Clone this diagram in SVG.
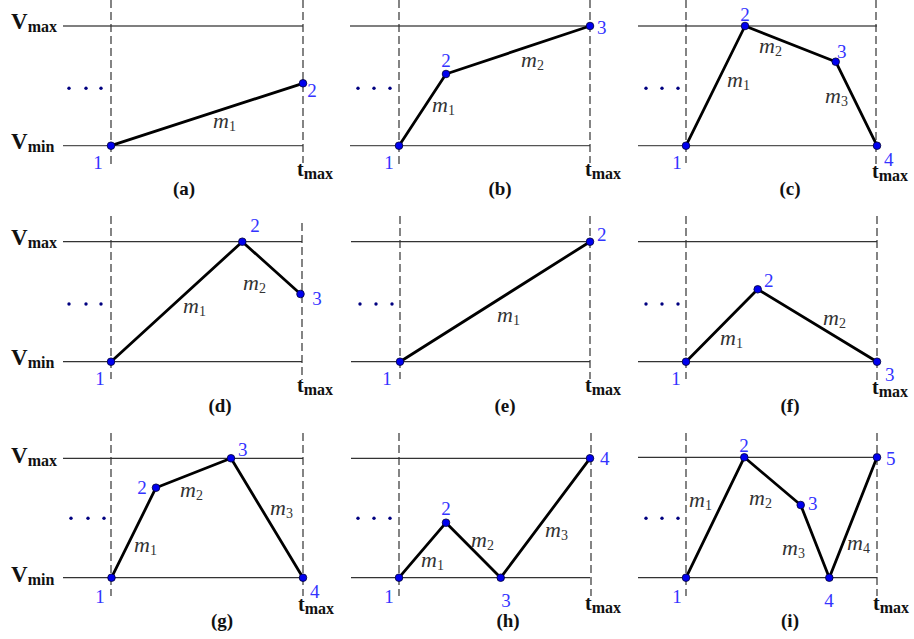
<svg xmlns="http://www.w3.org/2000/svg" width="914" height="639" viewBox="0 0 914 639">
<style>
  .bg{fill:#ffffff}
  .h{stroke:#333;stroke-width:1.3;fill:none}
  .h1{stroke:#555;stroke-width:1.3;fill:none}
  .d{stroke:#333;stroke-width:1.2;stroke-dasharray:8,4;fill:none}
  .seg{stroke:#000;stroke-width:2.8;fill:none;stroke-linejoin:round;stroke-linecap:round}
  .pt{fill:#0000ee;stroke:#000033;stroke-width:0.8}
  .el{fill:#000080}
  .num{font-family:"Liberation Serif","DejaVu Serif",serif;font-size:19px;fill:#3333ff}
  .m{font-family:"Liberation Serif","DejaVu Serif",serif;font-style:italic;font-size:22px;fill:#333}
  .ms{font-style:normal;font-size:14px}
  .V{font-family:"Liberation Serif","DejaVu Serif",serif;font-weight:bold;font-size:23px;fill:#111}
  .T{font-family:"Liberation Serif","DejaVu Serif",serif;font-weight:bold;font-size:20px;fill:#111}
  .sub{font-size:16px}
  .cap{font-family:"Liberation Serif","DejaVu Serif",serif;font-weight:bold;font-size:19px;fill:#111;text-anchor:middle}
  .c{text-anchor:middle}
</style>
<rect class="bg" x="0" y="0" width="914" height="639"/>

<!-- Panel (a) -->
<g id="panel-a">
  <g id="a-axes">
    <line class="h1" x1="63" y1="26" x2="303" y2="26"/>
    <line class="h1" x1="63" y1="145.7" x2="303" y2="145.7"/>
    <line class="d" x1="111" y1="0" x2="111" y2="167"/>
    <line class="d" x1="303" y1="0" x2="303" y2="163"/>
    <text class="V" x="11" y="29">V<tspan class="sub" dy="3">max</tspan></text>
    <text class="V" x="11" y="149">V<tspan class="sub" dy="3">min</tspan></text>
    <text class="T" x="297" y="176">t<tspan class="sub" dy="3">max</tspan></text>
    <circle class="el" cx="69" cy="88.3" r="1.7"/><circle class="el" cx="86" cy="88.3" r="1.7"/><circle class="el" cx="101" cy="88.3" r="1.7"/>
  </g>
  <g id="a-connectors">
    <polyline class="seg" points="111,145.7 303,83.3"/>
    <text class="m" x="213" y="128">m<tspan class="ms" dy="3">1</tspan></text>
  </g>
  <g id="a-n1"><circle class="pt" cx="111" cy="145.7" r="3.8"/><text class="num c" x="98" y="169">1</text></g>
  <g id="a-n2"><circle class="pt" cx="303" cy="83.3" r="3.8"/><text class="num c" x="312" y="97">2</text></g>
  <text class="cap" x="184" y="195">(a)</text>
</g>

<!-- Panel (b) -->
<g id="panel-b">
  <g id="b-axes">
    <line class="h1" x1="350" y1="26" x2="590" y2="26"/>
    <line class="h1" x1="350" y1="145.7" x2="590" y2="145.7"/>
    <line class="d" x1="399" y1="0" x2="399" y2="167"/>
    <line class="d" x1="590" y1="0" x2="590" y2="163"/>
    <text class="T" x="585" y="176">t<tspan class="sub" dy="3">max</tspan></text>
    <circle class="el" cx="358" cy="88.3" r="1.7"/><circle class="el" cx="374" cy="88.3" r="1.7"/><circle class="el" cx="390" cy="88.3" r="1.7"/>
  </g>
  <g id="b-connectors">
    <polyline class="seg" points="399,145.7 446,74 590,26"/>
    <text class="m" x="432" y="112">m<tspan class="ms" dy="3">1</tspan></text>
    <text class="m" x="521" y="67">m<tspan class="ms" dy="3">2</tspan></text>
  </g>
  <g id="b-n1"><circle class="pt" cx="399" cy="145.7" r="3.8"/><text class="num c" x="389" y="169">1</text></g>
  <g id="b-n2"><circle class="pt" cx="446" cy="74" r="3.8"/><text class="num c" x="446" y="67">2</text></g>
  <g id="b-n3"><circle class="pt" cx="590" cy="26" r="3.8"/><text class="num" x="597" y="34">3</text></g>
  <text class="cap" x="500" y="195">(b)</text>
</g>

<!-- Panel (c) -->
<g id="panel-c">
  <g id="c-axes">
    <line class="h1" x1="638" y1="26" x2="877" y2="26"/>
    <line class="h1" x1="638" y1="145.7" x2="877" y2="145.7"/>
    <line class="d" x1="686" y1="0" x2="686" y2="163"/>
    <line class="d" x1="876" y1="0" x2="876" y2="165"/>
    <text class="T" x="872" y="178">t<tspan class="sub" dy="3">max</tspan></text>
    <circle class="el" cx="646" cy="88.3" r="1.7"/><circle class="el" cx="662" cy="88.3" r="1.7"/><circle class="el" cx="678" cy="88.3" r="1.7"/>
  </g>
  <g id="c-connectors">
    <polyline class="seg" points="686,145.7 745,26 835.7,61.7 877,145.7"/>
    <text class="m" x="727" y="87">m<tspan class="ms" dy="3">1</tspan></text>
    <text class="m" x="759" y="53">m<tspan class="ms" dy="3">2</tspan></text>
    <text class="m" x="825" y="103">m<tspan class="ms" dy="3">3</tspan></text>
  </g>
  <g id="c-n1"><circle class="pt" cx="686" cy="145.7" r="3.8"/><text class="num c" x="677" y="169">1</text></g>
  <g id="c-n2"><circle class="pt" cx="745" cy="26" r="3.8"/><text class="num c" x="745" y="21">2</text></g>
  <g id="c-n3"><circle class="pt" cx="835.7" cy="61.7" r="3.8"/><text class="num" x="837" y="58">3</text></g>
  <g id="c-n4"><circle class="pt" cx="877" cy="145.7" r="3.8"/><text class="num" x="884" y="166">4</text></g>
  <text class="cap" x="790" y="195">(c)</text>
</g>

<!-- Panel (d) -->
<g id="panel-d">
  <g id="d-axes">
    <line class="h" x1="63" y1="241.7" x2="302" y2="241.7"/>
    <line class="h" x1="63" y1="361.7" x2="302" y2="361.7"/>
    <line class="d" x1="111" y1="216" x2="111" y2="379"/>
    <line class="d" x1="302" y1="223" x2="302" y2="380"/>
    <text class="V" x="11" y="245">V<tspan class="sub" dy="3">max</tspan></text>
    <text class="V" x="11" y="365">V<tspan class="sub" dy="3">min</tspan></text>
    <text class="T" x="297" y="392">t<tspan class="sub" dy="3">max</tspan></text>
    <circle class="el" cx="69" cy="304" r="1.7"/><circle class="el" cx="86" cy="304" r="1.7"/><circle class="el" cx="101" cy="304" r="1.7"/>
  </g>
  <g id="d-connectors">
    <polyline class="seg" points="111,361.7 242.3,241.7 300.5,294"/>
    <text class="m" x="183" y="313">m<tspan class="ms" dy="3">1</tspan></text>
    <text class="m" x="243" y="290">m<tspan class="ms" dy="3">2</tspan></text>
  </g>
  <g id="d-n1"><circle class="pt" cx="111" cy="361.7" r="3.8"/><text class="num c" x="100" y="385">1</text></g>
  <g id="d-n2"><circle class="pt" cx="242.3" cy="241.7" r="3.8"/><text class="num c" x="255" y="232">2</text></g>
  <g id="d-n3"><circle class="pt" cx="300.5" cy="294" r="3.8"/><text class="num c" x="317" y="305">3</text></g>
  <text class="cap" x="220" y="412">(d)</text>
</g>

<!-- Panel (e) -->
<g id="panel-e">
  <g id="e-axes">
    <line class="h" x1="351" y1="241.7" x2="590" y2="241.7"/>
    <line class="h" x1="351" y1="361.7" x2="590" y2="361.7"/>
    <line class="d" x1="400" y1="216" x2="400" y2="379"/>
    <line class="d" x1="590" y1="216" x2="590" y2="379"/>
    <text class="T" x="585" y="392">t<tspan class="sub" dy="3">max</tspan></text>
    <circle class="el" cx="360" cy="304" r="1.7"/><circle class="el" cx="376" cy="304" r="1.7"/><circle class="el" cx="392" cy="304" r="1.7"/>
  </g>
  <g id="e-connectors">
    <polyline class="seg" points="400,361.7 590,241.7"/>
    <text class="m" x="497" y="322">m<tspan class="ms" dy="3">1</tspan></text>
  </g>
  <g id="e-n1"><circle class="pt" cx="400" cy="361.7" r="3.8"/><text class="num c" x="387" y="385">1</text></g>
  <g id="e-n2"><circle class="pt" cx="590" cy="241.7" r="3.8"/><text class="num" x="597" y="241">2</text></g>
  <text class="cap" x="505" y="412">(e)</text>
</g>

<!-- Panel (f) -->
<g id="panel-f">
  <g id="f-axes">
    <line class="h" x1="638" y1="241.7" x2="877" y2="241.7"/>
    <line class="h" x1="638" y1="361.7" x2="877" y2="361.7"/>
    <line class="d" x1="686" y1="216" x2="686" y2="379"/>
    <line class="d" x1="877" y1="216" x2="877" y2="381"/>
    <text class="T" x="872" y="394">t<tspan class="sub" dy="3">max</tspan></text>
    <circle class="el" cx="646" cy="304" r="1.7"/><circle class="el" cx="662" cy="304" r="1.7"/><circle class="el" cx="678" cy="304" r="1.7"/>
  </g>
  <g id="f-connectors">
    <polyline class="seg" points="686,361.7 757.7,289.3 877,361.7"/>
    <text class="m" x="720" y="345">m<tspan class="ms" dy="3">1</tspan></text>
    <text class="m" x="823" y="325">m<tspan class="ms" dy="3">2</tspan></text>
  </g>
  <g id="f-n1"><circle class="pt" cx="686" cy="361.7" r="3.8"/><text class="num c" x="676" y="385">1</text></g>
  <g id="f-n2"><circle class="pt" cx="757.7" cy="289.3" r="3.8"/><text class="num" x="764" y="287">2</text></g>
  <g id="f-n3"><circle class="pt" cx="877" cy="361.7" r="3.8"/><text class="num" x="885" y="381">3</text></g>
  <text class="cap" x="790" y="412">(f)</text>
</g>

<!-- Panel (g) -->
<g id="panel-g">
  <g id="g-axes">
    <line class="h" x1="63" y1="458.3" x2="303" y2="458.3"/>
    <line class="h" x1="63" y1="577.7" x2="303" y2="577.7"/>
    <line class="d" x1="111" y1="433" x2="111" y2="596"/>
    <line class="d" x1="303" y1="433" x2="303" y2="596"/>
    <text class="V" x="11" y="463">V<tspan class="sub" dy="3">max</tspan></text>
    <text class="V" x="11" y="582">V<tspan class="sub" dy="3">min</tspan></text>
    <text class="T" x="298" y="611">t<tspan class="sub" dy="3">max</tspan></text>
    <circle class="el" cx="71" cy="518.3" r="1.7"/><circle class="el" cx="88" cy="518.3" r="1.7"/><circle class="el" cx="104" cy="518.3" r="1.7"/>
  </g>
  <g id="g-connectors">
    <polyline class="seg" points="111.5,577.7 156,487.7 231,458.3 303,577.7"/>
    <text class="m" x="134" y="552">m<tspan class="ms" dy="3">1</tspan></text>
    <text class="m" x="180" y="497">m<tspan class="ms" dy="3">2</tspan></text>
    <text class="m" x="270" y="515">m<tspan class="ms" dy="3">3</tspan></text>
  </g>
  <g id="g-n1"><circle class="pt" cx="111.5" cy="577.7" r="3.8"/><text class="num c" x="100" y="603">1</text></g>
  <g id="g-n2"><circle class="pt" cx="156" cy="487.7" r="3.8"/><text class="num c" x="142" y="494">2</text></g>
  <g id="g-n3"><circle class="pt" cx="231" cy="458.3" r="3.8"/><text class="num" x="238" y="456">3</text></g>
  <g id="g-n4"><circle class="pt" cx="303" cy="577.7" r="3.8"/><text class="num" x="310" y="598">4</text></g>
  <text class="cap" x="222" y="627">(g)</text>
</g>

<!-- Panel (h) -->
<g id="panel-h">
  <g id="h-axes">
    <line class="h" x1="351" y1="458.3" x2="590" y2="458.3"/>
    <line class="h" x1="351" y1="577.7" x2="590" y2="577.7"/>
    <line class="d" x1="399" y1="433" x2="399" y2="596"/>
    <line class="d" x1="591" y1="433" x2="591" y2="596"/>
    <text class="T" x="585" y="610">t<tspan class="sub" dy="3">max</tspan></text>
    <circle class="el" cx="358" cy="518.3" r="1.7"/><circle class="el" cx="374" cy="518.3" r="1.7"/><circle class="el" cx="390" cy="518.3" r="1.7"/>
  </g>
  <g id="h-connectors">
    <polyline class="seg" points="399,577.7 446,522.7 500.7,577.7 590,458.3"/>
    <text class="m" x="421" y="567">m<tspan class="ms" dy="3">1</tspan></text>
    <text class="m" x="471" y="547">m<tspan class="ms" dy="3">2</tspan></text>
    <text class="m" x="545" y="537">m<tspan class="ms" dy="3">3</tspan></text>
  </g>
  <g id="h-n1"><circle class="pt" cx="399" cy="577.7" r="3.8"/><text class="num c" x="389" y="603">1</text></g>
  <g id="h-n2"><circle class="pt" cx="446" cy="522.7" r="3.8"/><text class="num c" x="446" y="515">2</text></g>
  <g id="h-n3"><circle class="pt" cx="500.7" cy="577.7" r="3.8"/><text class="num c" x="506" y="607">3</text></g>
  <g id="h-n4"><circle class="pt" cx="590" cy="458.3" r="3.8"/><text class="num" x="600" y="465">4</text></g>
  <text class="cap" x="508" y="627">(h)</text>
</g>

<!-- Panel (i) -->
<g id="panel-i">
  <g id="i-axes">
    <line class="h" x1="638" y1="457.3" x2="877" y2="457.3"/>
    <line class="h" x1="638" y1="577.7" x2="877" y2="577.7"/>
    <line class="d" x1="686" y1="433" x2="686" y2="596"/>
    <line class="d" x1="877" y1="433" x2="877" y2="596"/>
    <text class="T" x="873" y="610">t<tspan class="sub" dy="3">max</tspan></text>
    <circle class="el" cx="646" cy="518.3" r="1.7"/><circle class="el" cx="662" cy="518.3" r="1.7"/><circle class="el" cx="678" cy="518.3" r="1.7"/>
  </g>
  <g id="i-connectors">
    <polyline class="seg" points="686,577.7 744.3,457.3 800.7,505 829.3,577.7 877,457.3"/>
    <text class="m" x="689" y="507">m<tspan class="ms" dy="3">1</tspan></text>
    <text class="m" x="749" y="505">m<tspan class="ms" dy="3">2</tspan></text>
    <text class="m" x="782" y="555">m<tspan class="ms" dy="3">3</tspan></text>
    <text class="m" x="847" y="550">m<tspan class="ms" dy="3">4</tspan></text>
  </g>
  <g id="i-n1"><circle class="pt" cx="686" cy="577.7" r="3.8"/><text class="num c" x="677" y="603">1</text></g>
  <g id="i-n2"><circle class="pt" cx="744.3" cy="457.3" r="3.8"/><text class="num c" x="744" y="452">2</text></g>
  <g id="i-n3"><circle class="pt" cx="800.7" cy="505" r="3.8"/><text class="num" x="808" y="510">3</text></g>
  <g id="i-n4"><circle class="pt" cx="829.3" cy="577.7" r="3.8"/><text class="num c" x="829" y="607">4</text></g>
  <g id="i-n5"><circle class="pt" cx="877" cy="457.3" r="3.8"/><text class="num" x="886" y="465">5</text></g>
  <text class="cap" x="790" y="627">(i)</text>
</g>
</svg>
